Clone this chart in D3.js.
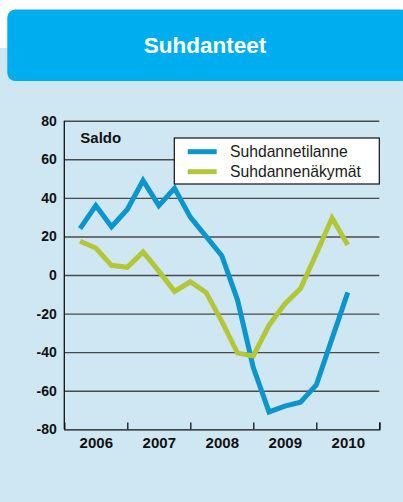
<!DOCTYPE html>
<html>
<head>
<meta charset="utf-8">
<script src="https://cdn.jsdelivr.net/npm/d3@7"></script>
<style>
  html, body { margin: 0; padding: 0; background: #ffffff; }
  svg { display: block; }
</style>
</head>
<body>
<svg id="chart" width="403" height="502"></svg>
<script>
// ---- data ----
const title = "Suhdanteet";
const yLabel = "Saldo";
const years = [2006, 2007, 2008, 2009, 2010];
const quarterIndex = [1, 2, 3, 4, 5, 6, 7, 8, 9, 10, 11, 12, 13, 14, 15, 16, 17, 18];
const seriesNames = ["Suhdannetilanne", "Suhdannenäkymät"];
const tilanne = [24, 36, 25, 34, 49, 36, 45, 30, 20, 10, -13, -48, -71, -68, -66, -57, -33, -9];
const nakymat = [17.5, 14, 5, 4, 12, 2, -8.5, -3.5, -9, -24, -40.5, -42, -26, -15, -7, 11, 29.5, 15.5];
const yTicks = [-80, -60, -40, -20, 0, 20, 40, 60, 80];

const colors = ["#0a96cd", "#b3c638"];

const svg = d3.select("#chart");

// background
svg.append("rect").attr("x", 0).attr("y", 48).attr("width", 403).attr("height", 454).attr("fill", "#cfe7f3");
// header
svg.append("rect").attr("x", 7.3).attr("y", 9.5).attr("width", 402).attr("height", 71.5)
  .attr("rx", 8).attr("ry", 8).attr("fill", "#00aeef");
svg.append("text").attr("x", 205).attr("y", 52.7).attr("text-anchor", "middle")
  .attr("font-family", "Liberation Sans, Arial, sans-serif").attr("font-weight", "bold")
  .attr("font-size", "22.5px").attr("fill", "#ffffff").text(title);

const pL = 64.3, pR = 379.3, pT = 120.7, pB = 429.3;

const x = d3.scaleLinear().domain([years[0], years[years.length - 1] + 1]).range([pL, pR]);
const y = d3.scaleLinear().domain([-80, 80]).range([pB, pT]);

const boldFont = "Liberation Sans, Arial, Helvetica, sans-serif";

// gridlines
const grid = svg.append("g").attr("transform", `translate(${pL},0)`)
  .call(d3.axisLeft(y).tickValues(yTicks.filter(v => v > -80)).tickSize(-(pR - pL)).tickFormat(""));
grid.select(".domain").remove();
grid.selectAll(".tick line").attr("stroke", "#4a4a4a").attr("stroke-width", 1.4);

// y labels
const yAx = svg.append("g").attr("transform", `translate(${pL},0)`)
  .call(d3.axisLeft(y).tickValues(yTicks).tickSize(0).tickPadding(7.5).tickFormat(d => String(d)));
yAx.select(".domain").remove();
yAx.selectAll("text").attr("font-family", boldFont).attr("font-weight", "bold")
  .attr("font-size", "14px").attr("fill", "#111");

// x axis ticks (year boundaries, pointing up)
const xTickAx = svg.append("g").attr("transform", `translate(0,${pB})`)
  .call(d3.axisBottom(x).tickValues(years.map(v => v + 1)).tickSize(-6.7).tickFormat(""));
xTickAx.select(".domain").attr("stroke", "#111").attr("stroke-width", 1.3);
xTickAx.selectAll(".tick line").attr("stroke", "#111").attr("stroke-width", 1.3);

// x labels centred in each year
const xLabAx = svg.append("g").attr("transform", `translate(0,${pB})`)
  .call(d3.axisBottom(x).tickValues(years.map(v => v + 0.5)).tickSize(0).tickPadding(8)
    .tickFormat(d => String(Math.floor(d))));
xLabAx.select(".domain").remove();
xLabAx.selectAll("text").attr("font-family", boldFont).attr("font-weight", "bold")
  .attr("font-size", "15px").attr("fill", "#111");

// left axis line
svg.append("line").attr("x1", pL).attr("x2", pL).attr("y1", pT).attr("y2", pB)
  .attr("stroke", "#111").attr("stroke-width", 1.3);

// Saldo label
svg.append("text").attr("x", 80.3).attr("y", 143.3)
  .attr("font-family", boldFont).attr("font-weight", "bold")
  .attr("font-size", "15px").attr("fill", "#111").text(yLabel);

// lines
const line = d3.line().x((d, i) => x(years[0] + quarterIndex[i] / 4)).y(d => y(d));
[tilanne, nakymat].forEach((s, k) => {
  svg.append("path").datum(s).attr("d", line).attr("fill", "none")
    .attr("stroke", colors[k]).attr("stroke-width", 5).attr("stroke-linejoin", "miter");
});

// legend
const lg = svg.append("g");
lg.append("rect").attr("x", 174.3).attr("y", 138).attr("width", 205).attr("height", 46)
  .attr("fill", "#ffffff").attr("stroke", "#111").attr("stroke-width", 1.2);
seriesNames.forEach((n, k) => {
  const yy = 151.7 + k * 20;
  lg.append("line").attr("x1", 187.7).attr("x2", 216.7).attr("y1", yy).attr("y2", yy)
    .attr("stroke", colors[k]).attr("stroke-width", 5);
  lg.append("text").attr("x", 230).attr("y", yy + 5.3)
    .attr("font-family", "Liberation Sans, Arial, sans-serif").attr("font-size", "15.7px")
    .attr("fill", "#1a1a1a").text(n);
});
</script>
</body>
</html>
